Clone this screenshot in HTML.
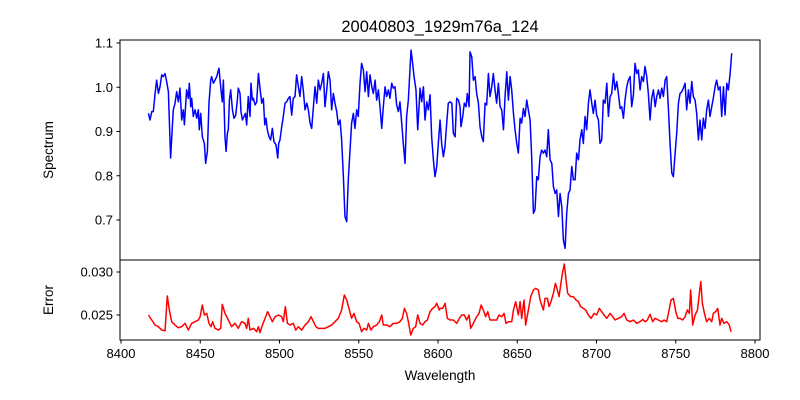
<!DOCTYPE html>
<html><head><meta charset="utf-8"><style>
html,body{margin:0;padding:0;background:#fff;}
svg{display:block;font-family:"Liberation Sans","DejaVu Sans",sans-serif;}
</style></head><body>
<svg id="chart" width="800" height="400" xmlns="http://www.w3.org/2000/svg">
<rect width="800" height="400" fill="#fff"/>
<text x="440" y="32" font-size="16.5" text-anchor="middle">20040803_1929m76a_124</text>
<g id="gtop"></g><g id="gbot"></g>
<text x="440" y="380" font-size="13.5" text-anchor="middle">Wavelength</text>
<text transform="translate(53,150) rotate(-90)" font-size="13.5" text-anchor="middle">Spectrum</text>
<text transform="translate(53,300) rotate(-90)" font-size="13.5" text-anchor="middle">Error</text>
</svg>
<script>
const waveS=[8417.3,8418.3,8419.4,8420.4,8421.5,8422.5,8423.6,8424.6,8425.7,8426.7,8427.8,8428.8,8429.9,8431.3,8432.4,8433.0,8434.1,8435.1,8436.2,8437.2,8438.3,8439.3,8440.0,8441.4,8442.5,8443.1,8444.0,8444.6,8445.6,8446.7,8447.8,8448.8,8449.4,8450.3,8451.3,8452.6,8453.4,8454.5,8455.5,8456.6,8457.2,8458.3,8459.3,8460.4,8461.8,8463.1,8463.9,8464.6,8465.6,8466.3,8467.1,8467.7,8468.4,8469.2,8470.3,8471.3,8472.4,8473.4,8474.0,8475.1,8475.7,8476.6,8477.6,8478.5,8479.3,8480.3,8481.4,8482.0,8482.9,8483.5,8484.6,8485.6,8486.7,8487.7,8488.8,8489.8,8490.7,8491.5,8492.3,8493.4,8494.4,8495.5,8496.5,8497.8,8498.9,8499.5,8500.3,8501.4,8502.4,8503.5,8504.5,8505.6,8506.6,8507.7,8508.7,8509.8,8510.8,8511.9,8512.9,8514.0,8515.0,8516.1,8517.2,8518.2,8519.3,8520.3,8521.4,8522.4,8523.5,8524.5,8525.6,8526.6,8527.7,8528.7,8529.8,8530.8,8531.9,8532.9,8534.0,8535.0,8536.1,8537.1,8538.2,8539.2,8540.3,8541.3,8542.4,8543.4,8544.5,8545.5,8546.6,8547.6,8548.7,8549.7,8550.8,8551.8,8552.9,8554.0,8555.0,8556.1,8557.1,8558.2,8559.2,8560.3,8561.3,8562.4,8563.4,8564.5,8565.5,8566.6,8567.6,8568.7,8569.7,8570.8,8571.8,8572.9,8573.9,8575.0,8576.0,8577.1,8578.1,8579.2,8580.2,8581.3,8582.3,8583.0,8584.0,8584.9,8586.1,8587.2,8588.7,8589.7,8590.8,8591.8,8592.9,8593.9,8595.0,8596.0,8597.1,8598.1,8599.2,8600.2,8601.3,8602.3,8603.4,8604.4,8605.5,8606.5,8607.6,8608.7,8609.7,8610.8,8611.8,8612.9,8613.9,8614.5,8615.6,8616.6,8617.7,8618.5,8619.6,8620.2,8621.3,8622.3,8623.4,8624.4,8625.5,8626.5,8627.6,8628.6,8629.7,8630.7,8631.8,8632.8,8633.9,8634.9,8636.0,8637.0,8638.1,8639.2,8640.2,8641.3,8642.3,8643.4,8644.4,8645.5,8646.5,8647.6,8648.6,8649.7,8650.7,8651.8,8652.8,8653.9,8654.9,8656.0,8657.0,8658.1,8659.1,8660.2,8661.2,8662.3,8663.3,8664.4,8665.4,8666.5,8667.5,8668.6,8669.6,8670.7,8671.8,8672.8,8673.9,8674.9,8676.0,8677.0,8678.1,8679.1,8680.2,8681.2,8682.3,8683.3,8684.4,8685.4,8686.5,8687.5,8688.6,8689.6,8690.7,8691.7,8692.8,8693.8,8694.9,8695.9,8697.0,8698.0,8699.1,8700.1,8701.2,8702.2,8703.3,8704.3,8705.4,8706.5,8707.5,8708.6,8709.6,8710.7,8711.7,8712.8,8713.8,8714.9,8715.9,8717.0,8718.0,8719.1,8720.1,8721.2,8722.2,8723.3,8724.3,8725.4,8726.4,8727.5,8728.5,8729.6,8730.6,8731.7,8732.7,8733.8,8734.8,8735.9,8737.0,8738.0,8739.1,8740.1,8741.2,8742.2,8743.3,8744.3,8745.4,8746.4,8747.5,8748.5,8749.6,8750.6,8751.7,8752.7,8753.8,8754.8,8755.9,8756.9,8758.0,8759.0,8760.1,8761.1,8762.2,8763.2,8764.3,8765.3,8766.4,8767.4,8768.5,8769.5,8770.6,8771.6,8772.7,8773.7,8774.8,8775.8,8776.9,8778.0,8779.0,8780.1,8781.1,8782.2,8783.2,8784.3,8785.3];
const flux=[0.941,0.926,0.945,0.945,0.986,1.016,0.986,1.001,1.028,1.024,1.031,1.013,0.990,0.840,0.911,0.949,0.964,0.990,0.967,0.998,0.926,0.949,0.915,0.994,0.975,1.009,0.956,0.975,0.934,0.949,0.930,0.949,0.904,0.941,0.888,0.873,0.828,0.855,0.964,1.016,1.024,1.009,1.016,1.024,1.043,0.994,0.967,1.016,0.888,0.855,0.896,0.904,0.971,0.994,0.949,0.930,0.937,0.971,0.998,0.986,0.945,0.926,0.934,0.941,0.915,0.979,0.934,1.009,0.971,0.975,0.960,0.967,1.031,0.998,0.964,0.975,0.915,0.930,0.904,0.888,0.881,0.907,0.877,0.870,0.840,0.873,0.881,0.911,0.934,0.964,0.967,0.975,0.979,0.937,0.975,0.979,1.028,1.001,0.979,1.024,0.994,0.949,0.964,0.949,0.919,0.907,0.956,1.001,0.964,1.016,0.994,1.009,1.031,0.956,0.994,1.035,1.016,0.949,0.986,0.964,0.945,0.915,0.926,0.881,0.798,0.708,0.696,0.791,0.858,0.919,0.941,0.907,0.949,0.934,1.009,1.054,1.039,0.990,1.035,0.979,1.028,1.001,0.986,1.016,0.971,0.994,0.956,0.907,0.956,1.001,0.979,0.994,0.975,1.009,0.998,1.001,0.960,0.945,0.967,0.919,0.873,0.828,0.934,0.971,1.039,1.084,1.054,1.024,0.994,0.904,0.998,0.967,1.001,0.926,0.967,0.949,0.983,0.888,0.836,0.798,0.821,0.873,0.926,0.873,0.843,0.866,0.919,0.964,0.967,0.964,0.896,0.888,0.975,0.971,0.956,0.911,0.934,0.964,0.956,0.986,0.956,1.080,1.069,1.016,1.024,0.986,0.964,0.911,0.888,0.877,0.964,0.960,1.031,0.979,1.001,1.031,0.994,0.964,1.009,0.956,0.949,0.904,0.979,1.035,0.971,1.024,0.994,0.941,0.904,0.873,0.851,0.930,0.919,0.952,0.934,0.971,0.949,0.926,0.843,0.715,0.723,0.798,0.791,0.843,0.858,0.851,0.858,0.843,0.904,0.836,0.828,0.776,0.760,0.768,0.708,0.760,0.730,0.655,0.636,0.715,0.760,0.768,0.821,0.791,0.791,0.851,0.836,0.881,0.904,0.873,0.934,0.904,0.964,0.994,0.964,0.941,0.971,0.937,0.926,0.873,0.881,0.971,0.964,1.009,0.934,0.979,0.986,1.031,0.994,1.013,0.986,0.952,0.956,0.930,0.971,1.001,1.016,1.024,0.956,0.983,1.054,1.031,1.039,0.994,1.024,1.013,1.047,1.024,0.986,0.926,0.975,0.994,0.956,0.979,0.994,0.975,0.998,0.979,1.016,1.024,0.949,0.873,0.806,0.798,0.851,0.896,0.964,0.986,0.990,0.998,1.009,0.949,0.994,0.964,1.013,0.979,0.971,0.941,0.881,0.926,0.881,0.930,0.907,0.949,0.971,0.934,0.956,0.975,1.001,1.016,0.994,1.001,0.934,1.001,0.937,1.009,0.994,1.031,1.077];
const waveE=[8417.3,8419.4,8421.5,8423.6,8425.7,8427.8,8429.2,8430.5,8432.0,8434.1,8436.2,8438.3,8440.4,8442.5,8444.6,8446.7,8448.8,8449.9,8451.3,8452.6,8454.1,8455.5,8456.8,8457.8,8459.3,8461.4,8462.9,8463.9,8465.6,8467.7,8469.8,8471.9,8474.0,8476.1,8478.2,8479.3,8480.3,8481.4,8483.5,8485.6,8486.7,8487.7,8489.2,8490.9,8492.5,8494.0,8495.5,8497.2,8499.3,8501.4,8502.4,8503.7,8505.0,8506.6,8508.7,8510.2,8511.9,8514.0,8516.1,8518.2,8519.9,8521.4,8523.0,8524.5,8526.6,8528.7,8530.8,8532.9,8535.0,8537.1,8539.2,8540.9,8542.4,8544.1,8545.5,8547.0,8548.7,8550.2,8551.8,8553.3,8555.0,8556.1,8557.7,8559.2,8561.3,8563.0,8564.5,8565.5,8567.6,8569.7,8571.8,8573.9,8576.0,8577.5,8578.8,8580.2,8581.3,8582.8,8584.4,8585.9,8587.2,8588.7,8590.3,8591.8,8593.3,8595.0,8596.6,8598.1,8599.2,8600.8,8601.3,8603.0,8604.5,8605.9,8607.6,8609.7,8611.8,8613.5,8615.0,8616.6,8618.1,8619.6,8620.6,8622.3,8624.4,8625.9,8627.2,8628.6,8630.1,8631.4,8632.8,8634.9,8637.0,8638.5,8640.2,8641.7,8642.9,8644.4,8646.5,8647.6,8649.0,8650.7,8651.8,8652.8,8654.3,8655.3,8657.0,8658.5,8660.2,8661.7,8663.3,8664.4,8665.4,8666.5,8667.5,8669.0,8670.1,8671.3,8672.8,8674.1,8675.3,8676.4,8677.4,8678.5,8679.7,8680.8,8681.8,8683.7,8685.4,8687.1,8688.6,8690.0,8691.7,8693.2,8694.9,8696.6,8698.5,8700.1,8701.8,8703.3,8704.8,8706.5,8708.6,8710.2,8711.7,8713.8,8715.9,8717.4,8719.1,8721.2,8723.3,8725.4,8727.5,8729.2,8730.6,8732.1,8733.8,8735.5,8736.9,8739.0,8741.1,8742.6,8744.3,8745.8,8747.0,8748.5,8750.0,8751.3,8752.7,8754.4,8755.9,8757.3,8758.6,8759.4,8760.7,8762.2,8763.7,8764.9,8765.8,8766.8,8768.1,8769.5,8771.2,8772.7,8773.7,8775.2,8776.5,8777.9,8779.0,8780.4,8782.2,8783.8,8784.9];
const err=[0.02500,0.02442,0.02383,0.02364,0.02325,0.02317,0.02721,0.02558,0.02422,0.02383,0.02352,0.02364,0.02403,0.02325,0.02403,0.02422,0.02442,0.02480,0.02616,0.02500,0.02519,0.02403,0.02364,0.02422,0.02345,0.02325,0.02345,0.02624,0.02519,0.02442,0.02364,0.02403,0.02345,0.02422,0.02403,0.02345,0.02461,0.02325,0.02345,0.02306,0.02364,0.02294,0.02383,0.02461,0.02539,0.02480,0.02422,0.02480,0.02500,0.02480,0.02422,0.02597,0.02403,0.02383,0.02403,0.02325,0.02364,0.02325,0.02383,0.02422,0.02480,0.02422,0.02364,0.02345,0.02345,0.02345,0.02364,0.02383,0.02422,0.02461,0.02558,0.02733,0.02674,0.02558,0.02461,0.02519,0.02422,0.02403,0.02306,0.02345,0.02325,0.02403,0.02325,0.02364,0.02383,0.02422,0.02500,0.02383,0.02383,0.02364,0.02403,0.02403,0.02422,0.02461,0.02577,0.02519,0.02422,0.02267,0.02345,0.02364,0.02500,0.02403,0.02383,0.02422,0.02442,0.02539,0.02577,0.02597,0.02636,0.02558,0.02577,0.02577,0.02636,0.02461,0.02442,0.02442,0.02403,0.02461,0.02500,0.02500,0.02442,0.02500,0.02345,0.02403,0.02480,0.02519,0.02616,0.02558,0.02480,0.02539,0.02442,0.02442,0.02442,0.02500,0.02480,0.02519,0.02403,0.02422,0.02422,0.02558,0.02655,0.02500,0.02655,0.02461,0.02674,0.02383,0.02558,0.02713,0.02791,0.02810,0.02791,0.02674,0.02616,0.02558,0.02694,0.02694,0.02597,0.02655,0.02752,0.02868,0.02791,0.02713,0.02849,0.02985,0.03093,0.02907,0.02752,0.02713,0.02713,0.02674,0.02655,0.02597,0.02577,0.02558,0.02500,0.02461,0.02519,0.02500,0.02577,0.02539,0.02500,0.02461,0.02519,0.02480,0.02442,0.02461,0.02480,0.02519,0.02442,0.02422,0.02442,0.02403,0.02422,0.02449,0.02422,0.02442,0.02508,0.02422,0.02461,0.02442,0.02422,0.02442,0.02422,0.02558,0.02674,0.02694,0.02539,0.02461,0.02461,0.02442,0.02480,0.02558,0.02519,0.02791,0.02383,0.02500,0.02558,0.02752,0.02888,0.02636,0.02519,0.02422,0.02461,0.02422,0.02519,0.02539,0.02577,0.02383,0.02461,0.02403,0.02422,0.02383,0.02306];
const xTicks=[8400,8450,8500,8550,8600,8650,8700,8750,8800];
const yTicksS=[0.7,0.8,0.9,1.0,1.1];
const yTicksE=[0.025,0.030];

const NS="http://www.w3.org/2000/svg";
const L=120,R=760;
const xS=w=>121+(w-8400)*1.585;
const yS=v=>43+(1.1-v)*442.5;
const yE=e=>315-(e-0.025)*8600;
function mk(tag,attrs,parent){const el=document.createElementNS(NS,tag);for(const k in attrs)el.setAttribute(k,attrs[k]);parent.appendChild(el);return el;}
const gTop=document.getElementById('gtop'),gBot=document.getElementById('gbot');
function pts(ws,vs,fy){const n=Math.min(ws.length,vs.length);const a=[];for(let i=0;i<n;i++)a.push(xS(ws[i]).toFixed(2)+','+fy(vs[i]).toFixed(2));return a.join(' ');}

const sLine=mk('polyline',{points:pts(waveS,flux,yS),fill:'none',stroke:'#0000ff','stroke-width':1.5,'stroke-linejoin':'round'},gTop);


const eLine=mk('polyline',{points:pts(waveE,err,yE),fill:'none',stroke:'#ff0000','stroke-width':1.5,'stroke-linejoin':'round'},gBot);



const f1=mk('rect',{x:L,y:40,width:R-L,height:220,fill:'none',stroke:'#000','stroke-width':1},gTop);


const f2=mk('rect',{x:L,y:260,width:R-L,height:80,fill:'none',stroke:'#000','stroke-width':1},gBot);



yTicksS.forEach(v=>{const y=yS(v);
 mk('line',{x1:L-3.5,x2:L,y1:y,y2:y,stroke:'#000'},gTop);
 const t=mk('text',{x:L-7,y:y+4.5,'font-size':13,'text-anchor':'end'},gTop);t.textContent=v.toFixed(1);
 
 });
yTicksE.forEach(v=>{const y=yE(v);
 mk('line',{x1:L-3.5,x2:L,y1:y,y2:y,stroke:'#000'},gBot);
 const t=mk('text',{x:L-7,y:y+4.5,'font-size':13,'text-anchor':'end'},gBot);t.textContent=v.toFixed(3);
 
 });
xTicks.forEach(w=>{const x=xS(w);
 mk('line',{x1:x,x2:x,y1:340,y2:343.5,stroke:'#000'},gBot);
 const t=mk('text',{x:x,y:358,'font-size':13,'text-anchor':'middle'},gBot);t.textContent=w;
 
 });
</script>
</body></html>
